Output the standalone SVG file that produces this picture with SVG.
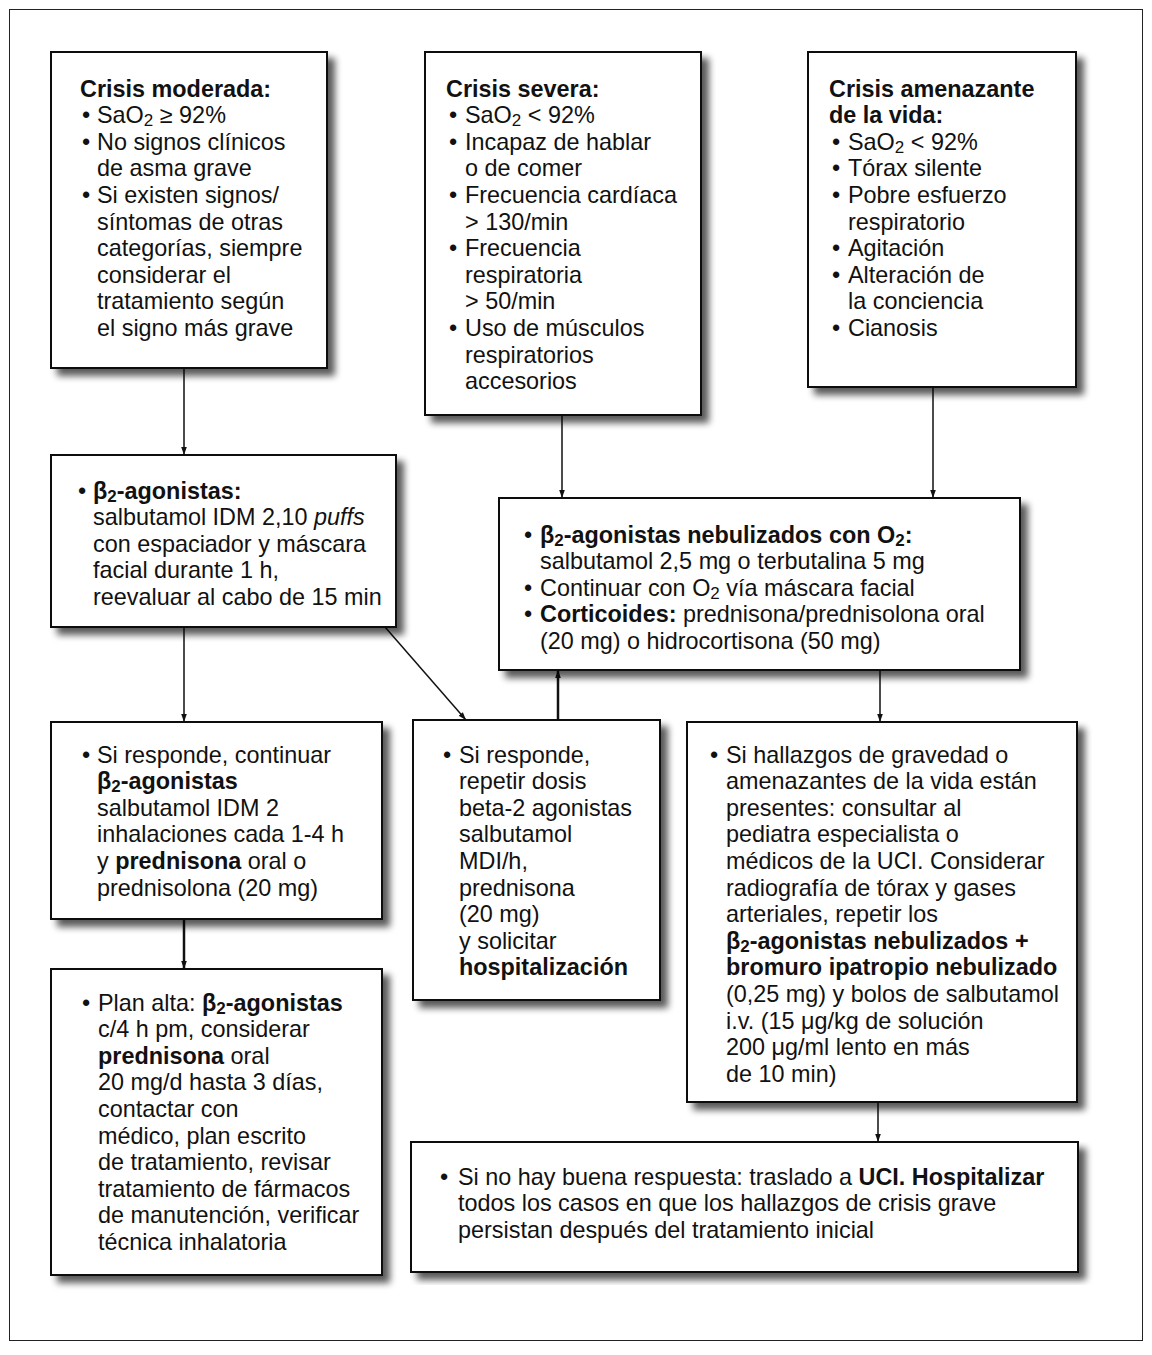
<svg xmlns="http://www.w3.org/2000/svg" width="1152" height="1355" viewBox="0 0 1152 1355">
<style>
.t{font-family:"Liberation Sans",Arial,sans-serif;font-size:23.4px;fill:#111}
.b{font-weight:bold}
.box{fill:#fff;stroke:#111;stroke-width:2;filter:url(#sh)}
.c{stroke:#111;stroke-width:1.5;fill:none;marker-end:url(#ah)}
.ct{stroke:#111;stroke-width:2.5;fill:none;marker-end:url(#ah)}
</style>
<defs>
<filter id="sh" x="-5%" y="-5%" width="115%" height="115%">
<feGaussianBlur in="SourceAlpha" stdDeviation="3.5"/>
<feOffset dx="7" dy="7" result="o"/>
<feComponentTransfer><feFuncA type="linear" slope="0.65"/></feComponentTransfer>
<feMerge><feMergeNode/><feMergeNode in="SourceGraphic"/></feMerge>
</filter>
<marker id="ah" markerUnits="userSpaceOnUse" markerWidth="8" markerHeight="12" refX="10" refY="3.5" orient="auto" viewBox="0 0 10 7">
<path d="M0,0 L10,3.5 L0,7 z" fill="#111"/>
</marker>
</defs>
<rect x="9.5" y="9.5" width="1133" height="1331" fill="#fff" stroke="#222" stroke-width="1"/>

<g id="connectors">
<line class="c" x1="184" y1="368" x2="184" y2="455"/>
<line class="c" x1="562" y1="415" x2="562" y2="498"/>
<line class="c" x1="933" y1="387" x2="933" y2="498"/>
<line class="c" x1="184" y1="627" x2="184" y2="722"/>
<line class="c" x1="385" y1="627" x2="466" y2="720"/>
<line class="ct" x1="558" y1="720" x2="558" y2="670"/>
<line class="c" x1="880" y1="670" x2="880" y2="722"/>
<line class="ct" x1="184" y1="919" x2="184" y2="969"/>
<line class="c" x1="878" y1="1102" x2="878" y2="1142"/>
</g>

<g id="n1">
<rect class="box" x="51" y="52" width="276" height="316"/>
<text class="t b" x="80" y="96.5">Crisis moderada:</text>
<text class="t" x="82" y="123.1">•</text><text class="t" x="97" y="123.1">SaO<tspan font-size="17" dy="3">2</tspan><tspan dy="-3"> ≥ 92%</tspan></text>
<text class="t" x="82" y="149.7">•</text><text class="t" x="97" y="149.7">No signos clínicos</text>
<text class="t" x="97" y="176.3">de asma grave</text>
<text class="t" x="82" y="202.9">•</text><text class="t" x="97" y="202.9">Si existen signos/</text>
<text class="t" x="97" y="229.5">síntomas de otras</text>
<text class="t" x="97" y="256.1">categorías, siempre</text>
<text class="t" x="97" y="282.7">considerar el</text>
<text class="t" x="97" y="309.3">tratamiento según</text>
<text class="t" x="97" y="335.9">el signo más grave</text>
</g>

<g id="n2">
<rect class="box" x="425" y="52" width="276" height="363"/>
<text class="t b" x="446" y="96.5">Crisis severa:</text>
<text class="t" x="449" y="123.1">•</text><text class="t" x="465" y="123.1">SaO<tspan font-size="17" dy="3">2</tspan><tspan dy="-3"> &lt; 92%</tspan></text>
<text class="t" x="449" y="149.7">•</text><text class="t" x="465" y="149.7">Incapaz de hablar</text>
<text class="t" x="465" y="176.3">o de comer</text>
<text class="t" x="449" y="202.9">•</text><text class="t" x="465" y="202.9">Frecuencia cardíaca</text>
<text class="t" x="465" y="229.5">&gt; 130/min</text>
<text class="t" x="449" y="256.1">•</text><text class="t" x="465" y="256.1">Frecuencia</text>
<text class="t" x="465" y="282.7">respiratoria</text>
<text class="t" x="465" y="309.3">&gt; 50/min</text>
<text class="t" x="449" y="335.9">•</text><text class="t" x="465" y="335.9">Uso de músculos</text>
<text class="t" x="465" y="362.5">respiratorios</text>
<text class="t" x="465" y="389.1">accesorios</text>
</g>

<g id="n3">
<rect class="box" x="808" y="52" width="268" height="335"/>
<text class="t b" x="829" y="96.5">Crisis amenazante</text>
<text class="t b" x="829" y="123.1">de la vida:</text>
<text class="t" x="832" y="149.7">•</text><text class="t" x="848" y="149.7">SaO<tspan font-size="17" dy="3">2</tspan><tspan dy="-3"> &lt; 92%</tspan></text>
<text class="t" x="832" y="176.3">•</text><text class="t" x="848" y="176.3">Tórax silente</text>
<text class="t" x="832" y="202.9">•</text><text class="t" x="848" y="202.9">Pobre esfuerzo</text>
<text class="t" x="848" y="229.5">respiratorio</text>
<text class="t" x="832" y="256.1">•</text><text class="t" x="848" y="256.1">Agitación</text>
<text class="t" x="832" y="282.7">•</text><text class="t" x="848" y="282.7">Alteración de</text>
<text class="t" x="848" y="309.3">la conciencia</text>
<text class="t" x="832" y="335.9">•</text><text class="t" x="848" y="335.9">Cianosis</text>
</g>

<g id="n4">
<rect class="box" x="51" y="455" width="345" height="172"/>
<text class="t" x="78" y="498.5">•</text><text class="t b" x="93" y="498.5">β<tspan font-size="17" dy="3">2</tspan><tspan dy="-3">-agonistas:</tspan></text>
<text class="t" x="93" y="525.1">salbutamol IDM 2,10 <tspan font-style="italic">puffs</tspan></text>
<text class="t" x="93" y="551.7">con espaciador y máscara</text>
<text class="t" x="93" y="578.3">facial durante 1 h,</text>
<text class="t" x="93" y="604.9">reevaluar al cabo de 15 min</text>
</g>

<g id="n5">
<rect class="box" x="499" y="498" width="521" height="172"/>
<text class="t" x="524" y="542.5">•</text><text class="t b" x="540" y="542.5">β<tspan font-size="17" dy="3">2</tspan><tspan dy="-3">-agonistas nebulizados con O</tspan><tspan font-size="17" dy="3">2</tspan><tspan dy="-3">:</tspan></text>
<text class="t" x="540" y="569.1">salbutamol 2,5 mg o terbutalina 5 mg</text>
<text class="t" x="524" y="595.7">•</text><text class="t" x="540" y="595.7">Continuar con O<tspan font-size="17" dy="3">2</tspan><tspan dy="-3"> vía máscara facial</tspan></text>
<text class="t" x="524" y="622.3">•</text><text class="t" x="540" y="622.3"><tspan class="b">Corticoides:</tspan> prednisona/prednisolona oral</text>
<text class="t" x="540" y="648.9">(20 mg) o hidrocortisona (50 mg)</text>
</g>

<g id="n6">
<rect class="box" x="51" y="722" width="331" height="197"/>
<text class="t" x="82" y="762.5">•</text><text class="t" x="97" y="762.5">Si responde, continuar</text>
<text class="t b" x="97" y="789.1">β<tspan font-size="17" dy="3">2</tspan><tspan dy="-3">-agonistas</tspan></text>
<text class="t" x="97" y="815.7">salbutamol IDM 2</text>
<text class="t" x="97" y="842.3">inhalaciones cada 1-4 h</text>
<text class="t" x="97" y="868.9">y <tspan class="b">prednisona</tspan> oral o</text>
<text class="t" x="97" y="895.5">prednisolona (20 mg)</text>
</g>

<g id="n7">
<rect class="box" x="413" y="720" width="247" height="280"/>
<text class="t" x="443" y="762.5">•</text><text class="t" x="459" y="762.5">Si responde,</text>
<text class="t" x="459" y="789.1">repetir dosis</text>
<text class="t" x="459" y="815.7">beta-2 agonistas</text>
<text class="t" x="459" y="842.3">salbutamol</text>
<text class="t" x="459" y="868.9">MDI/h,</text>
<text class="t" x="459" y="895.5">prednisona</text>
<text class="t" x="459" y="922.1">(20 mg)</text>
<text class="t" x="459" y="948.7">y solicitar</text>
<text class="t b" x="459" y="975.3">hospitalización</text>
</g>

<g id="n8">
<rect class="box" x="687" y="722" width="390" height="380"/>
<text class="t" x="710" y="762.5">•</text><text class="t" x="726" y="762.5">Si hallazgos de gravedad o</text>
<text class="t" x="726" y="789.1">amenazantes de la vida están</text>
<text class="t" x="726" y="815.7">presentes: consultar al</text>
<text class="t" x="726" y="842.3">pediatra especialista o</text>
<text class="t" x="726" y="868.9">médicos de la UCI. Considerar</text>
<text class="t" x="726" y="895.5">radiografía de tórax y gases</text>
<text class="t" x="726" y="922.1">arteriales, repetir los</text>
<text class="t b" x="726" y="948.7">β<tspan font-size="17" dy="3">2</tspan><tspan dy="-3">-agonistas nebulizados +</tspan></text>
<text class="t b" x="726" y="975.3">bromuro ipatropio nebulizado</text>
<text class="t" x="726" y="1001.9">(0,25 mg) y bolos de salbutamol</text>
<text class="t" x="726" y="1028.5">i.v. (15 μg/kg de solución</text>
<text class="t" x="726" y="1055.1">200 μg/ml lento en más</text>
<text class="t" x="726" y="1081.7">de 10 min)</text>
</g>

<g id="n9">
<rect class="box" x="51" y="969" width="331" height="306"/>
<text class="t" x="82" y="1010.5">•</text><text class="t" x="98" y="1010.5">Plan alta: <tspan class="b">β</tspan><tspan class="b" font-size="17" dy="3">2</tspan><tspan class="b" dy="-3">-agonistas</tspan></text>
<text class="t" x="98" y="1037.1">c/4 h pm, considerar</text>
<text class="t" x="98" y="1063.7"><tspan class="b">prednisona</tspan> oral</text>
<text class="t" x="98" y="1090.3">20 mg/d hasta 3 días,</text>
<text class="t" x="98" y="1116.9">contactar con</text>
<text class="t" x="98" y="1143.5">médico, plan escrito</text>
<text class="t" x="98" y="1170.1">de tratamiento, revisar</text>
<text class="t" x="98" y="1196.7">tratamiento de fármacos</text>
<text class="t" x="98" y="1223.3">de manutención, verificar</text>
<text class="t" x="98" y="1249.9">técnica inhalatoria</text>
</g>

<g id="n10">
<rect class="box" x="411" y="1142" width="667" height="130"/>
<text class="t" x="440" y="1184.5">•</text><text class="t" x="458" y="1184.5">Si no hay buena respuesta: traslado a <tspan class="b">UCI. Hospitalizar</tspan></text>
<text class="t" x="458" y="1211.1">todos los casos en que los hallazgos de crisis grave</text>
<text class="t" x="458" y="1237.7">persistan después del tratamiento inicial</text>
</g>
</svg>
